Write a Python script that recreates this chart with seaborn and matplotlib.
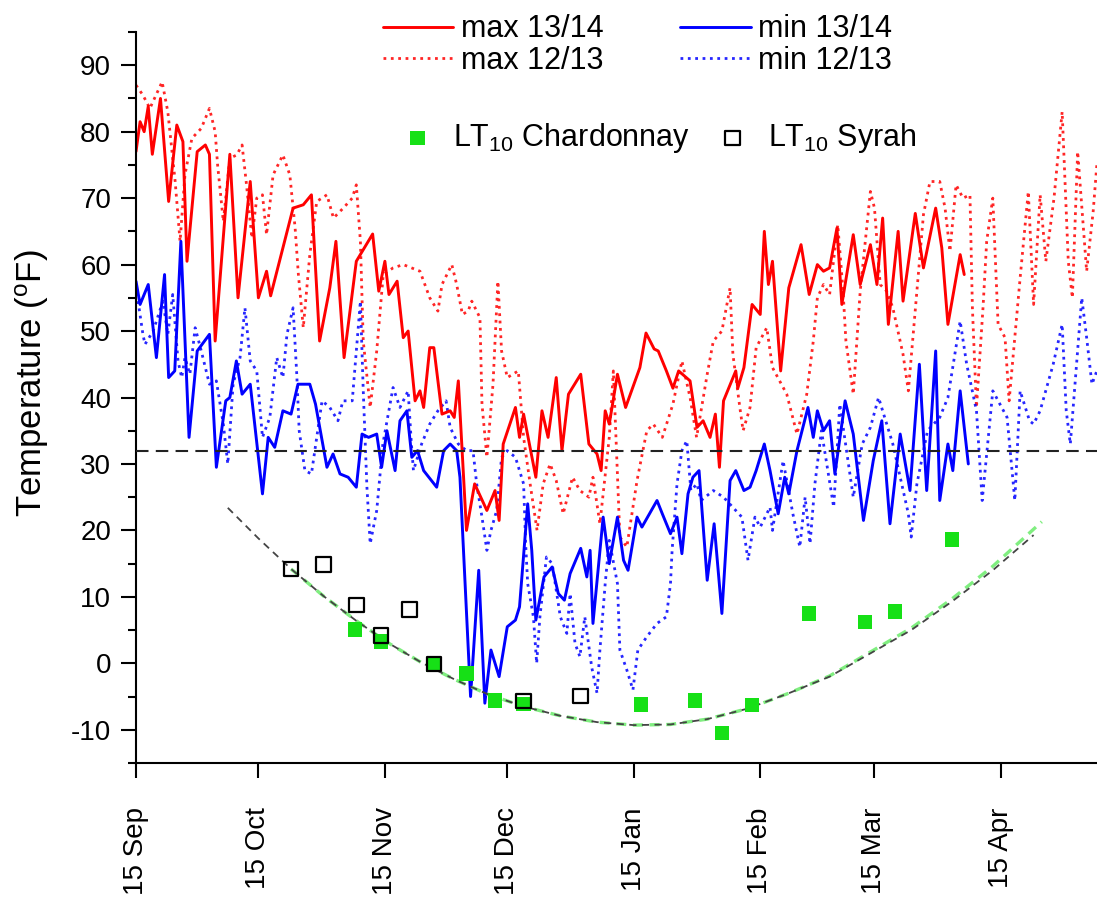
import numpy as np
import pandas as pd
import seaborn as sns
import matplotlib.pyplot as plt

# days after 15 Sep, temperatures in F
max_1314_day = [0, 1, 2, 3, 4, 6, 8, 10, 11.5, 12.5, 15, 17, 18, 19.4, 23, 25, 28, 30, 32, 33,
                38.5, 41, 43, 45, 47.5, 49, 51, 54, 58, 59.5, 61, 62, 64, 65.5, 66.7, 68.4, 69.6,
                70.5, 72, 73, 75, 77, 78, 79, 81, 83, 86, 88, 89, 90, 93, 94, 95, 98, 99.5, 101,
                103, 104.4, 106, 109, 111, 113, 114, 115, 116, 118, 120, 123.5, 125, 127, 128, 130,
                131.6, 133, 135.8, 137.5, 139, 140.7, 142, 143, 144, 146, 147, 147.5, 149, 151, 153,
                154, 155, 156, 158, 160, 163, 165, 167, 168.5, 170, 171.8, 173, 175.8, 177.5, 180,
                181.6, 183, 184.4, 186.8, 188, 191, 193, 196, 197.5, 199, 202, 203]
max_1314 = [77, 81.5, 80, 83.8, 76.6, 85, 69.5, 81, 78.5, 60.5, 77, 78, 76.6, 48.5, 76.6, 55, 72.5, 55, 59, 55.3,
            68.5, 69, 70.5, 48.5, 56.5, 63.5, 46, 60.5, 64.6, 56, 60.5, 55.5, 57.5, 49, 50, 39.5, 41,
            38.5, 47.5, 47.5, 37.5, 38, 37, 42.5, 20, 27, 23, 26, 21.5, 33, 38.5, 34, 37.5, 28, 38, 34,
            43, 32, 40.5, 43.5, 33, 31.5, 29, 38, 36, 43.5, 38.5, 44.5, 49.7, 47.3, 47, 44,
            41.4, 44, 42.5, 35.5, 36.5, 34, 37.5, 29.5, 39.5, 42.5, 44, 41.4, 44.5, 54, 52.5,
            65, 57, 60.5, 44, 56.5, 63, 55.5, 60, 59, 59.5, 65.5, 54, 64.5, 57, 63,
            57, 67, 51, 65, 54.5, 67.7, 59.5, 68.5, 62.5, 51, 61.5, 58.5]

min_1314_day = [0, 1, 3, 5, 7, 8, 9.5, 11, 13, 15, 18, 19.7, 22, 23, 24.6, 26, 28, 31, 32.4, 34,
                36, 38, 39.7, 42.6, 44, 46.8, 48.3, 50, 52, 54, 55.4, 57, 59, 60.2, 61.5, 63.5,
                64.7, 66.4, 67.6, 69, 70.5, 73.7, 75.4, 77, 78.6, 79.4, 82, 84, 85.5, 87, 89, 91,
                93, 94, 96, 97, 98, 100, 102, 103.5, 105, 106.4, 109, 110.5, 111.3, 112, 114.5, 116,
                118, 119.5, 120.6, 122.8, 124, 127.7, 129, 131, 132.6, 133.8, 135.3, 136.5, 138, 140,
                141.7, 143.6, 145.6, 147, 149, 150.5, 152, 154, 155.4, 157.4, 159, 160, 162, 164.7,
                166, 167, 168.5, 170, 171.3, 173.8, 175.8, 178.3, 180.7, 182.8, 184.8, 187.3, 189.7,
                192, 193.8, 196, 197, 199, 200.2, 202, 204]
min_1314 = [57.5, 54, 57, 46, 58.5, 43, 44, 63.5, 34, 47, 49.5, 29.5, 39.5, 40, 45.5, 40.5, 42, 25.5, 34, 32.5,
            38, 37.5, 42, 42, 39, 29.5, 31.5, 28.5, 28, 26.5, 34.5, 34, 34.5, 29.5, 35, 29,
            36.5, 38, 31, 32, 29, 26.5, 32, 33, 32, 28, -5, 14, -6, 2, -2, 5.5,
            6.5, 8.5, 24, 17, 6.5, 13, 14.5, 10.5, 9.5, 13.5, 17.3, 13, 17, 6, 22, 15,
            22, 15.5, 14, 22, 20.5, 24.5, 22.5, 19.5, 22, 16.5, 25.5, 28, 29, 12.5,
            21, 7.5, 27.5, 29, 26, 26.5, 29, 33, 29, 22.5, 28, 25.5, 32, 38.5,
            34, 38, 35, 36.5, 28.5, 39.5, 34.5, 21.5, 30.5, 36.5, 21, 34.5, 26,
            45, 26, 47, 24.5, 33, 29, 41, 30]

max_1213_day = [0, 1.7, 3.4, 6.4, 7.8, 9.6, 10.8, 12, 13.7, 16, 18, 19.4, 20, 21.4, 23, 24.7, 26, 27,
                28.4, 29.6, 31, 32, 33.6, 36, 37.7, 39, 39.8, 41, 42.6, 44.3, 46.8, 48.4, 50.8, 53,
                54, 55, 55.7, 57.4, 59, 60.6, 63, 65.5, 69.6, 72, 74, 75, 77.4, 78.6, 80, 81.4, 82.3,
                84.3, 84.8, 86, 87.5, 88.7, 89.6, 91, 93.7, 95, 96.6, 98.3, 99.8, 101.5, 103, 104.7,
                107, 108.8, 111, 112, 113.7, 116, 117, 118.6, 120.3, 122.8, 125.2, 126.8, 129, 131.6,
                133.8, 135.8, 137.4, 140, 141.5, 143.6, 145.6, 146.3, 148, 148.8, 150.5, 152, 154.6,
                156, 159.5, 162, 164.4, 166, 167, 168.5, 170, 172, 173.3, 174, 175.8, 177.5, 180, 181,
                182.4, 184, 185.5, 188, 189.3, 191.4, 193, 194.6, 197, 198.3, 199.5, 201, 202.7,
                204.4, 205, 206, 207.6, 208.5, 210, 211.3, 213, 214, 216.7, 218.7, 220, 221.6, 223,
                225, 227, 228.5, 229.5, 230.8, 233, 234.6, 235.5]
max_1213 = [87, 85.5, 83.5, 87.5, 83, 72.5, 63.5, 73.5, 79, 80.5, 83.5, 80, 75, 66.5, 76, 76.5, 78, 72.5,
            64, 70, 70.5, 64.5, 73.5, 76.5, 73.5, 65.5, 58.5, 50.5, 61.5, 69.5, 70.5, 67, 68.5, 70,
            72, 63.5, 48.5, 38.5, 47, 58.5, 59.5, 60, 59, 55, 53, 57, 60, 57, 52.5, 53, 54.5,
            52, 39, 31, 42, 57.5, 47, 43, 44, 34, 27, 20, 27, 30, 27.5, 22.5,
            28, 26, 25, 28, 21, 34, 44, 19, 17.5, 27.5, 35, 36, 34, 39,
            45.5, 40, 34, 43.5, 48.5, 50, 56.5, 46.5, 38.5, 35, 38.5, 47.5, 50.5,
            44.5, 40.5, 34.5, 40.5, 48.5, 55, 57, 55.5, 66, 56, 48.5, 40.5, 56, 71, 68.5,
            57, 56, 53.5, 46.5, 41, 56, 67.5, 72.5, 72.5, 68.5, 62, 72, 70,
            70.5, 53.5, 38.5, 53.5, 63.5, 70, 51, 49, 39.5, 58, 71, 54, 70.5, 60.5,
            70, 83, 60.5, 55, 77, 59, 68, 75]

min_1213_day = [0.5, 1.7, 2.2, 4.2, 6.6, 7.8, 9, 10.3, 11.2, 12, 13.2, 14.5, 16, 18, 19.7, 21.4, 22.5,
                23.8, 25.5, 26.7, 28, 29.6, 31, 32.8, 34.5, 36, 37, 38.5, 39.4, 40, 41.4, 43, 45.6,
                47.5, 49.5, 50.7, 53, 55, 55.7, 56.6, 57.4, 59, 60.5, 63, 64.7, 66.7, 67.5, 68, 70,
                72, 74, 76, 77, 79, 81, 82.6, 83.5, 84.8, 86, 87, 88.4, 89.6, 91, 93, 95, 95.5, 96,
                97.4, 98.2, 99, 100.6, 102, 104, 105.6, 106.4, 107.6, 108.8, 110, 111.7, 113, 113.7,
                115, 116, 118, 118.6, 120.3, 121.8, 123, 125.2, 127.7, 130, 131, 131.4, 132.6, 133.8,
                135, 136, 137.5, 138.5, 141.5, 144, 148.5, 150, 151.7, 153, 155.4, 156, 158.6, 161,
                162.7, 164, 165.2, 166.4, 168, 171, 172.5, 175.8, 178, 180, 182, 185.5, 189.3, 190,
                191.4, 194, 197, 199, 202, 203.6, 206, 207.4, 210, 213.5, 215.4, 216.7, 219, 220,
                221.6, 224.8, 227, 228, 229, 231.8, 233, 234.3, 235.5]
min_1213 = [54.5, 49.5, 48, 50, 54.5, 49.5, 55.5, 45.5, 43, 46, 43.5, 50.5, 47, 42, 42.5, 36, 30,
            42, 46, 53.5, 45.5, 44, 34, 37, 46, 43, 49.5, 53.5, 43.5, 35, 29, 28.5, 39.5,
            38.5, 36.5, 39.5, 39.5, 54.5, 41, 26.5, 18, 23, 33, 41.5, 38.5, 41, 33, 29, 33,
            36, 38, 39.5, 35.5, 33, 32, 32, 27, 22, 17, 20, 23, 31, 32, 31, 27, 18, 12,
            7, 0, 7, 16, 15, 7, 4.5, 10.5, 3, 1, 7, -0.6, -4.5, 2,
            12, 18.5, 12, 2, -1, -4, 2, 4, 6, 7, 12, 17, 27, 32,
            33.5, 26, 27, 24.5, 26, 25, 22, 15.5, 22, 20.5, 23.5, 20, 30.5, 22.5,
            17.5, 25, 18, 27, 35, 23.5, 39, 25, 33, 35.5, 40, 33, 22.5, 19,
            27, 35, 37, 40, 51.5, 45, 38, 24.5, 41, 37, 24.5, 41, 36.5, 36,
            38, 45, 51, 38, 33, 55, 49, 42, 44]

# LT10 cold hardiness
chard_day = [53.7, 60, 72.8, 81, 88, 95, 123.8, 137, 143.6, 151, 165, 178.7, 186, 200]
chard_lt10 = [5.1, 3.3, -0.2, -1.5, -5.6, -6.1, -6.2, -5.6, -10.5, -6.3, 7.5, 6.2, 7.8, 18.6]
syrah_day = [38, 46, 54, 60, 67, 73, 95, 109]
syrah_lt10 = [14.2, 14.9, 8.8, 4.2, 8.1, -0.1, -5.7, -4.9]

# fitted trend curves
fit_day = [22.5, 30, 38, 46, 54, 62, 70, 78, 86, 95, 104, 113, 122, 131, 140, 150, 160, 170,
           180, 190, 200, 210, 220]
fit_val = [23.4, 18.8, 14.2, 10.1, 6.4, 3.0, 0.1, -2.4, -4.6, -6.5, -7.9, -8.85, -9.3, -9.2, -8.4,
           -6.8, -4.5, -2.0, 1.5, 5.0, 9.3, 14.0, 19.3]
gfit_day = [38, 46, 54, 62, 70, 78, 86, 95, 104, 113, 122, 131, 140, 150, 160, 170, 180, 190,
            200, 210, 222]
gfit_val = [14.2, 10.1, 6.4, 3.0, 0.1, -2.4, -4.6, -6.5, -7.9, -8.85, -9.3, -9.2, -8.4, -6.8,
            -4.5, -1.9, 1.7, 5.3, 9.7, 14.6, 21.3]

tick_days = [0, 30, 61, 91, 122, 153, 181, 212]
tick_labels = ['15 Sep', '15 Oct', '15 Nov', '15 Dec', '15 Jan', '15 Feb', '15 Mar', '15 Apr']

sns.set_style('ticks')
plt.rcParams['font.family'] = ['Liberation Sans', 'DejaVu Sans']
plt.rcParams['mathtext.fontset'] = 'custom'
plt.rcParams['mathtext.rm'] = 'Liberation Sans'
plt.rcParams['axes.unicode_minus'] = False
plt.rcParams['text.color'] = 'black'
plt.rcParams['axes.labelcolor'] = 'black'
plt.rcParams['xtick.color'] = 'black'
plt.rcParams['ytick.color'] = 'black'

W, H = 1097, 899
fig = plt.figure(figsize=(W / 100, H / 100), dpi=100)
ax = fig.add_axes([136 / W, 1 - 763 / H, (W - 136) / W, (763 - 32) / H])

RED, BLUE = '#ff0000', '#0000ff'

sns.lineplot(x=max_1213_day, y=max_1213, ax=ax, color=RED, lw=2.0, linestyle=':',
             estimator=None, sort=False, label='max 12/13', alpha=0.85)
sns.lineplot(x=min_1213_day, y=min_1213, ax=ax, color=BLUE, lw=2.0, linestyle=':',
             estimator=None, sort=False, label='min 12/13', alpha=0.85)
sns.lineplot(x=max_1314_day, y=max_1314, ax=ax, color=RED, lw=2.1,
             estimator=None, sort=False, label='max 13/14')
sns.lineplot(x=min_1314_day, y=min_1314, ax=ax, color=BLUE, lw=2.1,
             estimator=None, sort=False, label='min 13/14')

ax.axhline(32, color='#222222', lw=1.5, linestyle=(0, (6, 3.5)), zorder=3)

sns.lineplot(x=gfit_day, y=gfit_val, ax=ax, color='#80ee80', lw=2.4, linestyle=(0, (3, 2)),
             estimator=None, sort=False, legend=False)
sns.lineplot(x=fit_day, y=fit_val, ax=ax, color='#444444', lw=1.3, linestyle=(0, (4, 3)),
             estimator=None, sort=False, legend=False)

sns.scatterplot(x=chard_day, y=chard_lt10, ax=ax, marker='s', s=110, color='#16e016',
                edgecolor='none', label=r'LT$\mathregular{_{10}}$ Chardonnay', zorder=5)
sns.scatterplot(x=syrah_day, y=syrah_lt10, ax=ax, marker='s', s=110, facecolor='none',
                edgecolor='black', linewidth=1.6, label=r'LT$\mathregular{_{10}}$ Syrah', zorder=6)

ax.set_xlim(0, (W - 136) / 4.08)
ax.set_ylim(-15, 95)
ax.set_xticks(tick_days)
ax.set_xticklabels(tick_labels, rotation=90, va='top', ha='center')
ax.set_yticks(np.arange(-10, 91, 10))
ax.set_yticks(np.arange(-15, 96, 5), minor=True)
ax.tick_params(axis='x', length=11, width=1.5, labelsize=20, pad=21, direction='out')
ax.tick_params(axis='y', which='major', length=11, width=1.5, labelsize=20, pad=7)
ax.tick_params(axis='y', which='minor', length=6, width=1.5)
ax.set_xlabel('')
ax.set_ylabel(r'Temperature ($\mathregular{^{o}}$F)', fontsize=25)
ax.yaxis.set_label_coords(-0.088, 0.52)
for s in ['top', 'right']:
    ax.spines[s].set_visible(False)
for s in ['left', 'bottom']:
    ax.spines[s].set_linewidth(1.5)
    ax.spines[s].set_color('black')

handles, labels = ax.get_legend_handles_labels()
hd = dict(zip(labels, handles))
order1 = ['max 13/14', 'max 12/13', 'min 13/14', 'min 12/13']
leg1 = ax.legend([hd[k] for k in order1], order1, ncol=2, frameon=False, fontsize=22,
                 handlelength=2.3, handletextpad=0.26, columnspacing=2.5, labelspacing=0.05,
                 borderpad=0, borderaxespad=0, loc='center left',
                 bbox_to_anchor=(383 / W, 1 - 45 / H), bbox_transform=fig.transFigure)
ax.add_artist(leg1)
order2 = [r'LT$\mathregular{_{10}}$ Chardonnay', r'LT$\mathregular{_{10}}$ Syrah']
ax.legend([hd[k] for k in order2], order2, ncol=2, frameon=False, fontsize=22,
          handlelength=1.0, handletextpad=0.68, columnspacing=0.87, borderpad=0,
          borderaxespad=0, loc='center left',
          bbox_to_anchor=(402 / W, 1 - 138 / H), bbox_transform=fig.transFigure)

fig.savefig('out.png', dpi=100)
